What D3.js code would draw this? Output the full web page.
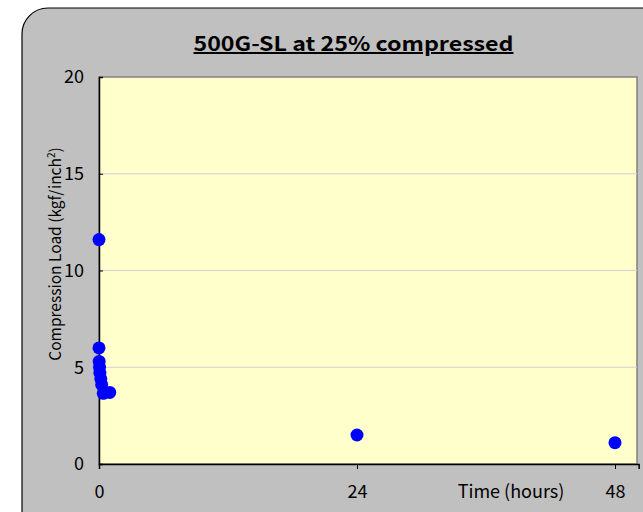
<!DOCTYPE html>
<html><head><meta charset="utf-8">
<script src="https://cdn.jsdelivr.net/npm/d3@7"></script>
<style>body{margin:0;background:#fff;} svg{display:block;}</style>
</head><body>
<svg id="c" width="643" height="512"></svg>
<script>
const times = [0, 0, 0.017, 0.05, 0.083, 0.17, 0.25, 0.4, 1, 24, 48];
const loads = [11.6, 6.0, 5.3, 5.0, 4.7, 4.4, 4.1, 3.65, 3.7, 1.5, 1.1];
const xTicks = [0, 24, 48];
const yTicks = [0, 5, 10, 15, 20];
const title = "500G-SL at 25% compressed";
const xLabel = "Time (hours)";

const svg = d3.select("#c");
const font = "'Noto Sans CJK JP', 'Noto Sans', sans-serif";
svg.append("rect").attr("width",643).attr("height",512).attr("fill","#fff");
svg.append("rect").attr("x",22).attr("y",8).attr("width",660).attr("height",540)
  .attr("rx",26).attr("fill","#c0c0c0").attr("stroke","#000").attr("stroke-width",1.2);

const m = {l:99, t:77, r:637, b:464};
const x = d3.scaleLinear().domain([0,50.2]).range([m.l, m.l + 258*50.2/24]);
const y = d3.scaleLinear().domain([0,20]).range([m.b, m.t]);

svg.append("rect").attr("x",m.l).attr("y",m.t).attr("width",m.r-m.l).attr("height",m.b-m.t)
  .attr("fill","#ffffcc").attr("stroke","#808080").attr("stroke-width",1.5);

svg.append("g").selectAll("line").data(yTicks.filter(d=>d>0 && d<20)).join("line")
  .attr("x1",m.l).attr("x2",m.r).attr("y1",d=>y(d)).attr("y2",d=>y(d))
  .attr("stroke","#d0d0d0").attr("stroke-width",1);

// axes
const yAxis = svg.append("g").attr("transform",`translate(${m.l},0)`)
  .call(d3.axisLeft(y).tickValues(yTicks).tickSize(-4).tickPadding(15));
yAxis.select(".domain").attr("stroke","#000").attr("stroke-width",1.5);
yAxis.selectAll("text").attr("font-family",font).attr("font-size",18).attr("fill","#000");

const xAxis = svg.append("g").attr("transform",`translate(0,${m.b})`)
  .call(d3.axisBottom(x).tickValues(xTicks).tickSize(5).tickPadding(16));
xAxis.select(".domain").attr("stroke","#000").attr("stroke-width",1.5);
xAxis.selectAll(".tick line").attr("stroke","#000");
xAxis.selectAll("text").attr("font-family",font).attr("font-size",18).attr("fill","#000");
xAxis.selectAll(".tick").filter(d=>d===0).select("line").remove();

svg.append("g").selectAll("circle").data(times.map((t,i)=>[t,loads[i]])).join("circle")
  .attr("cx",d=>x(d[0])).attr("cy",d=>y(d[1])).attr("r",6.5).attr("fill","#0000ff");

svg.append("text").attr("x",353.5).attr("y",51).attr("text-anchor","middle")
  .attr("font-family",font).attr("font-size",20).attr("font-weight","bold")
  .attr("textLength",320).attr("lengthAdjust","spacingAndGlyphs")
  .attr("text-decoration","underline").text(title);

svg.append("text").attr("x",511).attr("y",498).attr("text-anchor","middle")
  .attr("font-family",font).attr("font-size",18).text(xLabel);

const yl = svg.append("text").attr("transform","translate(61,254) rotate(-90)")
  .attr("text-anchor","middle").attr("font-family",font).attr("font-size",15.5);
yl.append("tspan").text("Compression Load (kgf/inch");
yl.append("tspan").attr("dy",-6).attr("font-size",10).text("2");
yl.append("tspan").attr("dy",6).text(")");
</script>
</body></html>
